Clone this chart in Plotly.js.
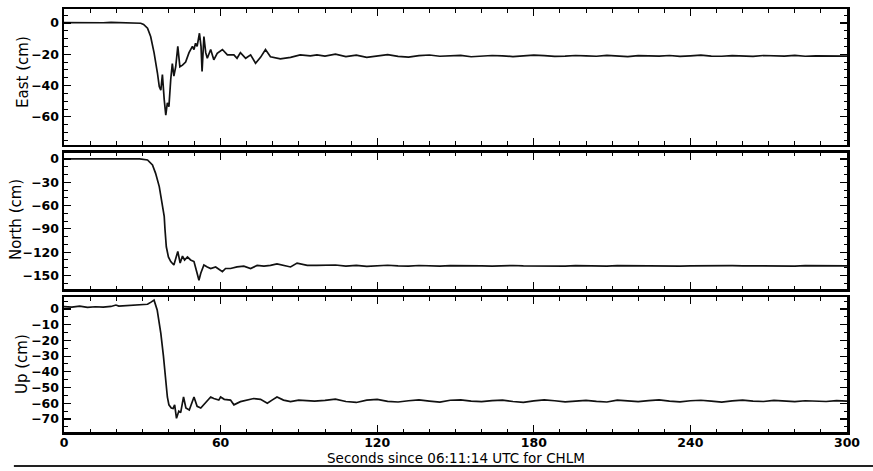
<!DOCTYPE html>
<html>
<head>
<meta charset="utf-8">
<script src="https://cdn.plot.ly/plotly-3.0.1.min.js"></script>
<style>html,body{margin:0;padding:0;background:#fff;}#chart{width:873px;height:471px;}</style>
</head>
<body>
<div id="chart"></div>
<script>
// ---- data ----
const panelTitles = ["East (cm)", "North (cm)", "Up (cm)"];
const xTitle = "Seconds since 06:11:14 UTC for CHLM";
const xTickVals = [0, 60, 120, 180, 240, 300];

const eastHeadT = [0,3,6,9,12,15,18,21,24,26,28,29.4,30.5,32.0,33.2,34.5,35.8,36.5,37.1,37.7,38.4,39.0,39.6,40.2,40.9,41.5,42.1,42.8,43.6,44.4,45.4,46.6,47.9,48.4,49.2,49.8,50.4,51.0,51.9,52.5,52.9,53.6,54.3,54.9,56.2,57.4,58.7,60.7,62.6,65.1,66.3,67.6,69.6,71.5,73.4,75.3,77.2,79.1,82.9,86.8,90.5,94.4,96.9];
const eastHeadV = [0.2,0.1,0.3,0.0,0.2,0.1,0.3,0.1,0.2,0.0,0.1,-0.2,-1.0,-3.4,-8.7,-19,-32,-40.7,-43,-33,-49,-59,-51,-53.5,-36,-26,-34,-28,-15,-28,-27,-25,-19,-17,-15,-17,-13,-15,-6.6,-15,-31,-8.7,-19,-22.6,-17,-23.6,-19.5,-17,-20.4,-20.4,-22.6,-19,-22.6,-20.4,-25.8,-22,-17,-21.6,-23,-22,-20.4,-21,-20.4];

const northHeadT = [0,3,6,9,12,15,18,21,24,27,29,30.7,32.0,33.9,35.1,36.5,37.4,38.0,38.4,38.7,39.2,40.0,40.9,42.1,42.9,43.6,44.5,45.4,46.2,47.3,48.5,49.8,51.0,51.7,52.4,53.6,54.9,56.2,58.1,60.7,61.9,63.8,66.3,68.9,71.5,74.0,76.6,79.1,81.6,84.1,86.8,89.3,93.2,96.9];
const northHeadV = [0,0.1,0,-0.1,0.1,0,0.1,0,-0.1,0,0,-0.3,-1.3,-7.7,-18.5,-35.6,-53,-68,-74,-91,-113,-126,-132,-136.5,-128,-119,-134,-125,-130,-126,-130,-132,-147,-156,-147,-136.5,-139,-141,-139,-145,-141,-141,-139,-138,-141,-137,-138,-137,-135,-137,-139,-134,-137,-137];

const upHeadT = [0,3,6,9,12,15,18,19.9,21,24,27,30,32,33.5,34.5,35.7,37.1,38.1,39.0,39.6,40.2,41.1,41.8,42.4,43.1,44.0,44.7,45.8,46.7,48.0,49.8,51.0,52.4,53.7,54.9,56.2,57.4,59.3,60.0,61.4,63.8,65.1,67.6,70.2,72.7,75.3,77.9,79.7,81.6,84.1,86.8,89.9,96.0];
const upHeadV = [1.5,1.2,1.8,1.0,1.4,1.2,1.6,2.5,1.8,2.0,2.2,2.6,3.0,4.5,5.6,-0.6,-15.5,-30,-45,-56,-61,-63,-63.3,-61,-69.6,-65,-66,-56,-63,-64.3,-56,-62,-63,-60.5,-58,-56,-57,-58,-56,-57.5,-58,-61,-59,-58,-57,-57.5,-60,-58,-56,-58,-59,-58,-58.6];

const tailT = [100,104,108,112,116,120,124,128,132,136,140,144,148,152,156,160,164,168,172,176,180,184,188,192,196,200,204,208,212,216,220,224,228,232,236,240,244,248,252,256,260,264,268,272,276,280,284,288,292,296,300];
const eastTailV = [-21.2,-20.0,-21.5,-20.6,-22.0,-21.1,-20.3,-21.4,-21.8,-20.9,-20.5,-21.3,-21.0,-20.7,-21.6,-21.2,-20.8,-21.0,-21.5,-21.1,-20.6,-20.9,-21.4,-21.2,-20.8,-21.0,-21.3,-20.7,-21.1,-21.5,-20.9,-21.0,-21.2,-20.8,-21.4,-21.0,-20.6,-21.2,-21.3,-20.9,-21.1,-21.4,-20.8,-21.0,-21.2,-20.7,-21.3,-21.0,-21.1,-20.9,-21.2];
const northTailV = [-137.2,-136.5,-137.8,-137.0,-138.2,-137.4,-136.8,-137.6,-137.9,-137.1,-137.5,-138.0,-137.3,-137.7,-137.2,-137.6,-137.9,-137.4,-137.1,-137.6,-137.8,-137.3,-137.5,-137.9,-137.2,-137.6,-137.4,-137.8,-137.3,-137.5,-137.7,-137.2,-137.6,-137.4,-137.9,-137.5,-137.3,-137.6,-137.8,-137.4,-137.5,-137.7,-137.3,-137.6,-137.5,-137.8,-137.4,-137.6,-137.5,-137.3,-137.6];
const upTailV = [-58.2,-57.4,-58.9,-59.5,-58.0,-57.6,-58.8,-59.2,-58.4,-57.9,-58.6,-59.3,-58.1,-57.8,-58.7,-59.0,-58.3,-58.0,-58.9,-59.4,-58.5,-57.9,-58.4,-59.1,-58.6,-58.2,-58.8,-59.2,-58.0,-58.5,-59.0,-58.3,-57.8,-58.6,-59.1,-58.4,-58.1,-58.7,-59.3,-58.5,-58.0,-58.6,-58.9,-58.2,-58.7,-59.0,-58.4,-58.6,-58.9,-58.3,-58.7];

// ---- chart ----
const lineStyle = {color: '#111', width: 1.7};
const traces = [
  {x: eastHeadT.concat(tailT), y: eastHeadV.concat(eastTailV), xaxis: 'x', yaxis: 'y', mode: 'lines', line: lineStyle, hoverinfo: 'skip'},
  {x: northHeadT.concat(tailT), y: northHeadV.concat(northTailV), xaxis: 'x2', yaxis: 'y2', mode: 'lines', line: lineStyle, hoverinfo: 'skip'},
  {x: upHeadT.concat(tailT), y: upHeadV.concat(upTailV), xaxis: 'x3', yaxis: 'y3', mode: 'lines', line: lineStyle, hoverinfo: 'skip'}
];

const family = 'DejaVu Sans, Liberation Sans, Arial, sans-serif';
const tickFont = {family: family, size: 12.5, color: '#000', weight: 'bold'};

function xAx(anchor, labels) {
  return {
    anchor: anchor, range: [0, 300], tickvals: xTickVals, showticklabels: labels,
    ticks: 'inside', ticklen: 7, tickwidth: 1.2, tickcolor: '#000',
    minor: {dtick: 10, ticks: 'inside', ticklen: 3.5, tickwidth: 1, tickcolor: '#000'},
    showline: true, linewidth: 2.5, linecolor: '#000', mirror: 'ticks',
    showgrid: false, zeroline: false, tickfont: tickFont, ticklabelstandoff: -3
  };
}
function yAx(anchor, domain, range, dtick, minorDtick) {
  return {
    anchor: anchor, domain: domain, range: range, tick0: 0, dtick: dtick,
    ticks: 'inside', ticklen: 7, tickwidth: 1.2, tickcolor: '#000',
    minor: {tick0: 0, dtick: minorDtick, ticks: 'inside', ticklen: 3.5, tickwidth: 1, tickcolor: '#000'},
    showline: true, linewidth: 2.5, linecolor: '#000', mirror: 'ticks',
    showgrid: false, zeroline: false, tickfont: tickFont
  };
}

const titleFont = {family: family, size: 15, color: '#000', weight: 'normal'};
const xTitleFont = {family: family, size: 13.5, color: '#000', weight: 'normal'};
const layout = {
  width: 873, height: 471,
  margin: {l: 64, r: 26, t: 9, b: 39},
  paper_bgcolor: '#fff', plot_bgcolor: '#fff',
  showlegend: false, font: {family: family, size: 13, color: '#000'},
  xaxis: xAx('y', false),
  xaxis2: xAx('y2', false),
  xaxis3: xAx('y3', true),
  yaxis: yAx('x', [0.6785, 1.0], [-78.0, 8.9], 20, 5),
  yaxis2: yAx('x2', [0.3369, 0.6596], [-168.0, 7.7], 30, 10),
  yaxis3: yAx('x3', [0, 0.3191], [-78.3, 7.6], 10, 5),
  annotations: [
    {text: panelTitles[0], xref: 'paper', yref: 'paper', x: -0.0525, y: 0.851, textangle: -90, showarrow: false, xanchor: 'center', yanchor: 'middle', font: titleFont},
    {text: panelTitles[1], xref: 'paper', yref: 'paper', x: -0.0615, y: 0.503, textangle: -90, showarrow: false, xanchor: 'center', yanchor: 'middle', font: titleFont},
    {text: panelTitles[2], xref: 'paper', yref: 'paper', x: -0.0535, y: 0.161, textangle: -90, showarrow: false, xanchor: 'center', yanchor: 'middle', font: titleFont},
    {text: xTitle, xref: 'paper', yref: 'paper', x: 0.5, y: -0.0615, showarrow: false, xanchor: 'center', yanchor: 'middle', font: xTitleFont}
  ],
  shapes: [
    {type: 'line', xref: 'paper', yref: 'paper', x0: -0.064, x1: 1.04, y0: -0.0804, y1: -0.0804, line: {color: '#222', width: 2}}
  ]
};

Plotly.newPlot('chart', traces, layout, {staticPlot: true, displayModeBar: false});
</script>
</body>
</html>
